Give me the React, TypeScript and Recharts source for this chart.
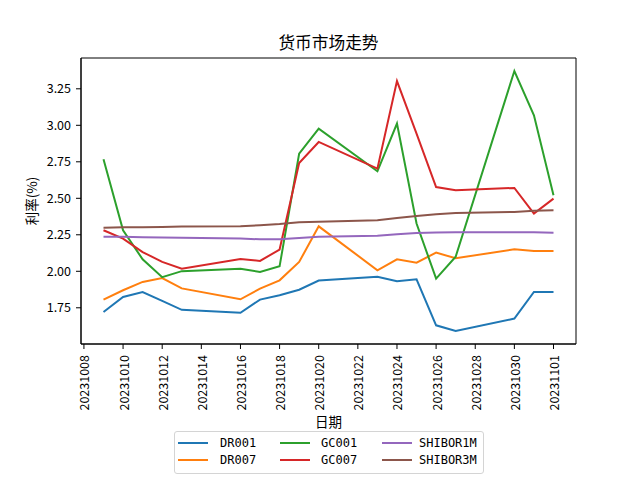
import { LineChart, Line, XAxis, YAxis, ReferenceArea } from "recharts"

const DATES = [
  "20231009", "20231010", "20231011", "20231012", "20231013",
  "20231016", "20231017", "20231018", "20231019", "20231020",
  "20231023", "20231024", "20231025", "20231026", "20231027",
  "20231030", "20231031", "20231101",
]
const DR001 = [1.721, 1.824, 1.858, 1.797, 1.736, 1.716, 1.806, 1.836, 1.874, 1.937, 1.963, 1.932, 1.945, 1.630, 1.591, 1.676, 1.858, 1.858]
const DR007 = [1.806, 1.870, 1.927, 1.954, 1.883, 1.808, 1.881, 1.938, 2.064, 2.308, 2.007, 2.082, 2.059, 2.128, 2.089, 2.151, 2.139, 2.139]
const GC001 = [2.767, 2.281, 2.082, 1.960, 2.001, 2.018, 1.995, 2.034, 2.806, 2.977, 2.685, 3.012, 2.327, 1.950, 2.100, 3.372, 3.068, 2.521]
const GC007 = [2.281, 2.224, 2.132, 2.064, 2.018, 2.084, 2.071, 2.149, 2.742, 2.886, 2.703, 3.303, 2.943, 2.577, 2.555, 2.571, 2.395, 2.498]
const SHIBOR1M = [2.236, 2.236, 2.234, 2.232, 2.229, 2.225, 2.219, 2.219, 2.228, 2.236, 2.244, 2.254, 2.262, 2.266, 2.267, 2.268, 2.267, 2.264]
const SHIBOR3M = [2.299, 2.301, 2.302, 2.304, 2.306, 2.308, 2.315, 2.324, 2.336, 2.340, 2.349, 2.365, 2.379, 2.390, 2.400, 2.406, 2.415, 2.418]
const Y_TICKS = [1.75, 2.0, 2.25, 2.5, 2.75, 3.0, 3.25]

const SERIES = [
  { key: "DR001", values: DR001, color: "#1f77b4" },
  { key: "DR007", values: DR007, color: "#ff7f0e" },
  { key: "GC001", values: GC001, color: "#2ca02c" },
  { key: "GC007", values: GC007, color: "#d62728" },
  { key: "SHIBOR1M", values: SHIBOR1M, color: "#9467bd" },
  { key: "SHIBOR3M", values: SHIBOR3M, color: "#8c564b" },
]

const FONT = "'Noto Sans CJK SC', 'DejaVu Sans', sans-serif"
const MONO = "'DejaVu Sans Mono', 'Liberation Mono', monospace"
const BASE = Date.UTC(2023, 9, 8)
const DAY = 86400000

function toDay(s: string) {
  return (Date.UTC(+s.slice(0, 4), +s.slice(4, 6) - 1, +s.slice(6, 8)) - BASE) / DAY
}

function fmtDay(n: number) {
  const d = new Date(BASE + n * DAY)
  const mm = String(d.getUTCMonth() + 1).padStart(2, "0")
  const dd = String(d.getUTCDate()).padStart(2, "0")
  return `${d.getUTCFullYear()}${mm}${dd}`
}

const data = DATES.map((d, i) => {
  const row: Record<string, number> = { x: toDay(d) }
  for (const s of SERIES) row[s.key] = s.values[i]
  return row
})

// matplotlib-style 5% margins
const xs = data.map((r) => r.x)
const xMin = Math.min(...xs)
const xMax = Math.max(...xs)
const xPad = (xMax - xMin) * 0.05
const X_DOMAIN: [number, number] = [xMin - xPad, xMax + xPad]
const allY = SERIES.flatMap((s) => s.values)
const yMin = Math.min(...allY)
const yMax = Math.max(...allY)
const yPad = (yMax - yMin) * 0.05
const Y_DOMAIN: [number, number] = [yMin - yPad, yMax + yPad]

const X_TICKS: number[] = []
for (let t = 0; t <= xMax; t += 2) X_TICKS.push(t)

function XTick({ x, y, payload }: any) {
  return (
    <g transform={`translate(${x},${y})`}>
      <text
        transform="rotate(-90)"
        x={0}
        y={0}
        textAnchor="end"
        dominantBaseline="central"
        fontSize={12.5}
        fontFamily={FONT}
        fill="#000"
      >
        {fmtDay(payload.value)}
      </text>
    </g>
  )
}

function LegendBox() {
  const lineX = [3, 105, 207]
  const textX = [45, 146, 244]
  const rows = [10.7, 28.3]
  return (
    <div
      style={{
        position: "absolute", left: 174, top: 431, width: 308, height: 41,
        border: "1px solid #d4d4d4", borderRadius: 3, background: "#fff",
        fontFamily: MONO, fontSize: 12,
      }}
    >
      {SERIES.map((s, i) => {
        const col = Math.floor(i / 2)
        const r = rows[i % 2]
        return (
          <div key={s.key}>
            <div style={{ position: "absolute", left: lineX[col], top: r - 1, width: 30, height: 2, background: s.color }} />
            <div style={{ position: "absolute", left: textX[col], top: r - 8, lineHeight: "16px", color: "#000" }}>{s.key}</div>
          </div>
        )
      })}
    </div>
  )
}

export default function App() {
  return (
    <div style={{ position: "absolute", left: 0, top: 0, width: 640, height: 480, background: "#fff", fontFamily: FONT }}>
      <div style={{ position: "absolute", left: 0, width: 657, top: 32, textAlign: "center", fontSize: 16.7, lineHeight: "20px" }}>
        货币市场走势
      </div>
      <div
        style={{
          position: "absolute", left: 31, top: 201, fontSize: 13.5, lineHeight: "16px", whiteSpace: "nowrap",
          transform: "translate(-50%, -50%) rotate(-90deg)",
        }}
      >
        利率(%)
      </div>
      <div style={{ position: "absolute", left: 0, width: 657, top: 412, textAlign: "center", fontSize: 13.5, lineHeight: "18px" }}>
        日期
      </div>
      <LineChart width={640} height={480} data={data} margin={{ top: 58, right: 64, bottom: 0, left: 0 }}>
        <XAxis
          dataKey="x"
          type="number"
          domain={X_DOMAIN}
          ticks={X_TICKS}
          allowDataOverflow
          height={136}
          tickSize={5}
          tickMargin={6}
          tick={<XTick />}
          stroke="#000"
          interval={0}
        />
        <YAxis
          type="number"
          domain={Y_DOMAIN}
          ticks={Y_TICKS}
          allowDataOverflow
          width={81}
          tickSize={5}
          tickMargin={5}
          tickFormatter={(v: number) => v.toFixed(2)}
          tick={{ fontSize: 12.5, fontFamily: FONT, fill: "#000" }}
          stroke="#000"
          interval={0}
        />
        <ReferenceArea
          x1={X_DOMAIN[0]} x2={X_DOMAIN[1]} y1={Y_DOMAIN[0]} y2={Y_DOMAIN[1]}
          fill="none" stroke="#000" strokeWidth={1} ifOverflow="visible"
        />
        {SERIES.map((s) => (
          <Line
            key={s.key}
            type="linear"
            dataKey={s.key}
            stroke={s.color}
            strokeWidth={2}
            dot={false}
            isAnimationActive={false}
          />
        ))}
      </LineChart>
      <LegendBox />
    </div>
  )
}
